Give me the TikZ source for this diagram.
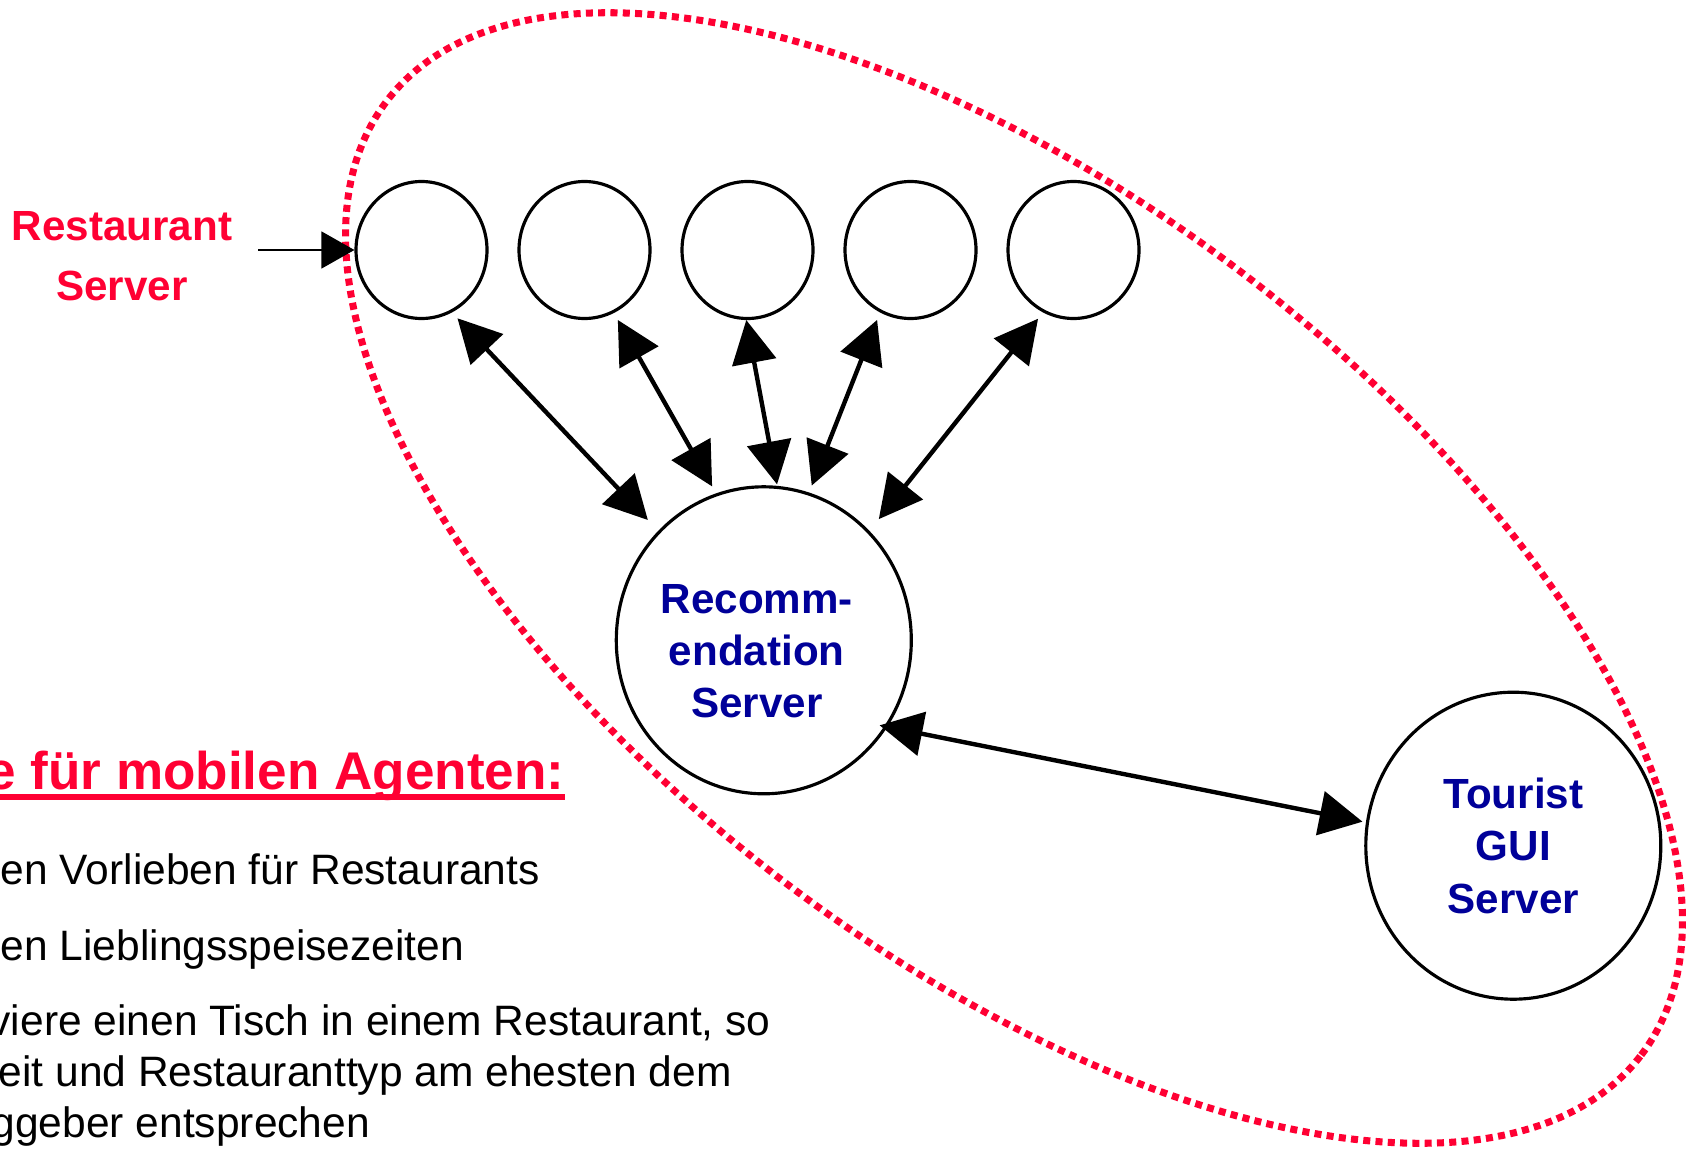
\documentclass[tikz,border=0pt]{standalone}
\usepackage{fontspec}
\setmainfont{Liberation Sans}
\usetikzlibrary{shapes.geometric, arrows.meta}
\definecolor{agentred}{RGB}{255,0,51}
\definecolor{serverblue}{RGB}{0,0,153}

\begin{document}
\begin{tikzpicture}[node distance=1.63cm,
        smallserver/.style={ellipse, draw, line width=0.9pt, inner sep=0pt, minimum width=1.31cm, minimum height=1.37cm},
        bigserver/.style={ellipse, draw, line width=0.9pt, inner sep=0pt, minimum width=2.95cm, minimum height=3.07cm},
        servertext/.style={align=center, text=serverblue, font=\fontsize{12}{14.9}\selectfont\bfseries},
        link/.style={{Triangle[length=0.43cm, width=0.44cm]}-{Triangle[length=0.43cm, width=0.44cm]}, line width=1.25pt},
        bodytext/.style={anchor=base west, inner sep=0pt, font=\fontsize{12.1}{14.5}\selectfont}]
        \useasboundingbox (0,0) rectangle (16.86,-11.52);
        \clip (0,0) rectangle (16.86,-11.52);

        % Define nodes
        \node (r1) [smallserver] at (4.215,-2.50) {};
        \node (r2) [smallserver, right of=r1] {};
        \node (r3) [smallserver, right of=r2] {};
        \node (r4) [smallserver, right of=r3] {};
        \node (r5) [smallserver, right of=r4] {};
        \node (rec) [bigserver] at (7.638,-6.403) {};
        \node (rectext) [servertext] at ([shift={(-0.07,-0.11)}]rec.center) {Recomm-\\endation\\Server};
        \node (gui) [bigserver] at (15.133,-8.457) {};
        \node (guitext) [servertext] at (gui.center) {Tourist\\GUI\\Server};
        \node (rslabel) [align=center, text=agentred, font=\fontsize{12}{17}\selectfont\bfseries] at (1.22,-2.565) {Restaurant\\Server};
        \coordinate (rsstart) at (2.58,-2.50);

        % Agent area
        \draw[agentred, line width=2pt, dash pattern=on 2pt off 1.5pt, shift={(10.14,-5.78)}, rotate=-37.25] (0,0) ellipse [x radius=7.88, y radius=3.81];

        % Task text
        \node (aufgabe) [anchor=base east, inner sep=0pt, text=agentred, font=\fontsize{15.1}{18}\selectfont\bfseries] at (5.65,-7.893) {e für mobilen Agenten:};
        \draw[agentred, line width=1.7pt] ([yshift=-0.077cm]aufgabe.base west) -- ([yshift=-0.077cm]aufgabe.base east);
        \node (task1) [bodytext] at (0,-8.843) {en Vorlieben für Restaurants};
        \node (task2) [bodytext] at (0,-9.60) {en Lieblingsspeisezeiten};
        \node (task3a) [bodytext] at (-0.11,-10.35) {viere einen Tisch in einem Restaurant, so};
        \node (task3b) [bodytext] at (-0.02,-10.86) {eit und Restauranttyp am ehesten dem};
        \node (task3c) [bodytext] at (-0.09,-11.37) {ggeber entsprechen};

        % Draw arrows
        \draw[link, shorten <=0.08cm, shorten >=0.15cm] (r1.-64) -- (rec.134);
        \draw[link, shorten <=0.08cm, shorten >=0.08cm] (r2.-65) -- (rec.108);
        \draw[link, shorten >=0.015cm] (r3.-91) -- (rec.85);
        \draw[link, shorten <=0.08cm, shorten >=0.075cm] (r4.-116) -- (rec.73);
        \draw[link, shorten <=0.08cm, shorten >=0.15cm] (r5.-116) -- (rec.46);
        \draw[link, shorten <=-0.08cm, shorten >=0.035cm] (rec.-35) -- (gui.171);
        \draw[-{Triangle[length=0.33cm, width=0.37cm]}, line width=0.4pt] (rsstart) -- (r1.west);
\end{tikzpicture}
\end{document}
